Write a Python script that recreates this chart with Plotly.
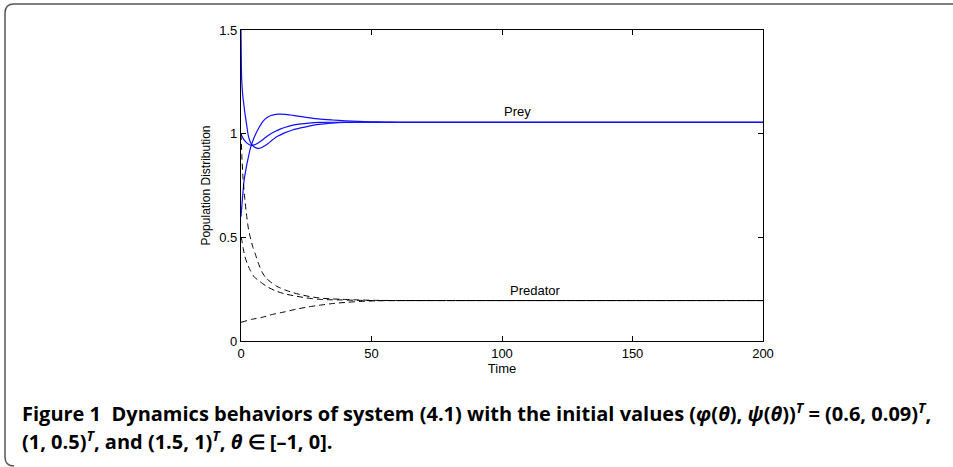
import plotly.graph_objects as go

# ---------------- data ----------------
prey_t_a = [0, 0.5, 1.15, 1.5, 2.2, 2.8, 3.5, 4.5, 5.5, 6.7, 8, 9.2, 10.8, 12.4, 14.5, 16.9, 20, 23.3, 26.5, 29.7, 35, 40, 45, 50, 55, 60, 80, 200]
prey_y_a = [0.6, 0.68, 0.77, 0.80, 0.85, 0.885, 0.925, 0.965, 0.995, 1.025, 1.052, 1.070, 1.084, 1.091, 1.094, 1.093, 1.088, 1.082, 1.076, 1.071, 1.066, 1.062, 1.059, 1.057, 1.056, 1.055, 1.055, 1.055]

prey_t_b = [0, 0.5, 1.2, 2.0, 2.8, 3.7, 4.6, 5.5, 6.7, 8, 9.5, 11, 13, 15, 17, 19.5, 23, 26, 29.7, 35, 40, 45, 50, 55, 60, 80, 200]
prey_y_b = [1.0, 0.985, 0.970, 0.958, 0.950, 0.945, 0.945, 0.948, 0.956, 0.968, 0.983, 0.996, 1.010, 1.022, 1.031, 1.040, 1.047, 1.051, 1.054, 1.055, 1.055, 1.055, 1.055, 1.055, 1.055, 1.055, 1.055]

prey_t_c = [0, 0.27, 0.7, 1.0, 1.54, 2.2, 2.8, 3.4, 4.0, 5.0, 6.0, 7.0, 8.0, 9.0, 10.5, 12, 14, 16.9, 20, 23.3, 26.5, 29.7, 35, 40, 45, 50, 55, 60, 80, 200]
prey_y_c = [1.5, 1.26, 1.18, 1.15, 1.095, 1.04, 0.99, 0.965, 0.950, 0.937, 0.930, 0.929, 0.933, 0.941, 0.954, 0.969, 0.987, 1.005, 1.019, 1.029, 1.038, 1.045, 1.051, 1.054, 1.055, 1.055, 1.055, 1.055, 1.055, 1.055]

pred_t_a = [0, 4, 8, 12, 16.9, 21, 26, 31, 36, 41, 46, 52, 60, 80, 200]
pred_y_a = [0.09, 0.104, 0.114, 0.128, 0.141, 0.153, 0.165, 0.174, 0.182, 0.187, 0.191, 0.194, 0.195, 0.195, 0.195]

pred_t_b = [0, 0.3, 0.8, 1.5, 2.5, 3.5, 5.0, 7.3, 10, 13, 16.5, 20.8, 25, 29.7, 34, 38.7, 45, 52, 60, 80, 200]
pred_y_b = [0.5, 0.487, 0.450, 0.407, 0.370, 0.342, 0.310, 0.286, 0.262, 0.243, 0.228, 0.217, 0.208, 0.201, 0.199, 0.198, 0.196, 0.195, 0.195, 0.195, 0.195]

pred_t_c = [0, 0.3, 0.8, 1.5, 2.2, 2.8, 3.5, 4.5, 5.4, 6.5, 8, 9.5, 11.2, 13.5, 16.9, 20, 23.3, 27, 31, 35, 38.7, 45, 52, 60, 80, 200]
pred_y_c = [1.0, 0.90, 0.78, 0.68, 0.60, 0.545, 0.503, 0.455, 0.423, 0.380, 0.334, 0.305, 0.286, 0.265, 0.246, 0.233, 0.222, 0.213, 0.206, 0.203, 0.201, 0.198, 0.196, 0.195, 0.195, 0.195]

x_ticks = [0, 50, 100, 150, 200]
y_ticks = [0, 0.5, 1, 1.5]
y_tick_labels = ["0", "0.5", "1", "1.5"]

# ---------------- figure ----------------
W, H = 953, 467
L, R, T, B = 241, 763, 30, 341   # plot-area pixel box


def px(x):
    return (x - L) / (R - L)


def py(y):
    return (B - y) / (B - T)


fig = go.Figure()
blue = "#1010ff"
for t, y in [(prey_t_a, prey_y_a), (prey_t_b, prey_y_b), (prey_t_c, prey_y_c)]:
    fig.add_trace(go.Scatter(x=t, y=y, mode="lines", line=dict(color=blue, width=1.2, shape="spline", smoothing=0.6),
                             showlegend=False, hoverinfo="skip"))
for t, y in [(pred_t_a, pred_y_a), (pred_t_b, pred_y_b), (pred_t_c, pred_y_c)]:
    fig.add_trace(go.Scatter(x=t, y=y, mode="lines", line=dict(color="black", width=1, dash="6px,4px", shape="spline", smoothing=0.6),
                             showlegend=False, hoverinfo="skip"))

sans = "Liberation Sans, Arial, sans-serif"
tickfont = dict(family=sans, size=13, color="black")
axis_common = dict(showgrid=False, zeroline=False, showline=True, linecolor="black", linewidth=1.2,
                   mirror="ticks", ticks="inside", ticklen=5, tickcolor="black", tickwidth=1,
                   tickfont=tickfont)

fig.update_xaxes(range=[0, 200], tickvals=x_ticks, ticktext=[str(v) for v in x_ticks],
                 title=dict(text="Time", font=dict(family=sans, size=13, color="black"), standoff=2),
                 **axis_common)
fig.update_yaxes(range=[0, 1.5], tickvals=y_ticks, ticktext=y_tick_labels,
                 title=dict(text="Population Distribution", font=dict(family=sans, size=12, color="black"), standoff=6),
                 **axis_common)

fig.add_annotation(x=106, y=1.055, xref="x", yref="y", text="Prey", showarrow=False,
                   yanchor="bottom", yshift=1, font=dict(family=sans, size=13, color="black"))
fig.add_annotation(x=113, y=0.195, xref="x", yref="y", text="Predator", showarrow=False,
                   yanchor="bottom", yshift=1, font=dict(family=sans, size=13, color="black"))

cap_font = dict(family="Open Sans, Noto Sans, sans-serif", size=20, color="black")
line1 = ("<b>Figure 1  Dynamics behaviors of system (4.1) with the initial values "
         "(<i>φ</i>(<i>θ</i>), <i>ψ</i>(<i>θ</i>))<sup><i>T</i></sup> = (0.6, 0.09)<sup><i>T</i></sup>,</b>")
line2 = ("<b>(1, 0.5)<sup><i>T</i></sup>, and (1.5, 1)<sup><i>T</i></sup>, <i>θ</i> ∈ [–1, 0].</b>")
fig.add_annotation(x=px(20), y=py(412), xref="paper", yref="paper", text=line1, showarrow=False,
                   xanchor="left", yanchor="middle", align="left", font=cap_font)
fig.add_annotation(x=px(20), y=py(441), xref="paper", yref="paper", text=line2, showarrow=False,
                   xanchor="left", yanchor="middle", align="left", font=cap_font)

# rounded frame (decoration)
r = 9
path = (f"M {px(W + 5)},{py(4)} L {px(5 + r)},{py(4)} Q {px(5)},{py(4)} {px(5)},{py(4 + r)} "
        f"L {px(5)},{py(466 - r)} Q {px(5)},{py(466)} {px(5 + r)},{py(466)}")
fig.add_shape(type="path", path=path, xref="paper", yref="paper",
              line=dict(color="#555555", width=1.5))

fig.update_layout(width=W, height=H, margin=dict(l=L, r=W - R, t=T, b=H - B, pad=0),
                  plot_bgcolor="white", paper_bgcolor="white")

fig.write_html("out.html", config={"displayModeBar": False},
               post_script="document.body.style.margin='0';document.body.style.overflow='hidden';")
